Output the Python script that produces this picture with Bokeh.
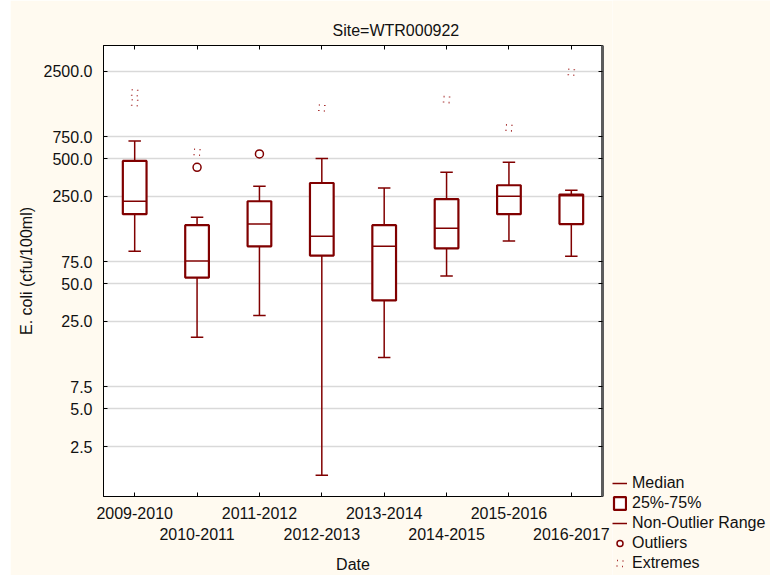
import numpy as np
from bokeh.plotting import figure
from bokeh.layouts import row
from bokeh.models import (FixedTicker, LinearAxis, LogAxis, PrintfTickFormatter,
                          ColumnDataSource, Legend, LegendItem, Range1d, Spacer)
from bokeh.embed import file_html
from bokeh.resources import INLINE

# ---- data ----
periods = ["2009-2010", "2010-2011", "2011-2012", "2012-2013",
           "2013-2014", "2014-2015", "2015-2016", "2016-2017"]
whisker_low = [91, 18.7, 27.9, 1.48, 12.9, 57.6, 110, 83]
q1 = [180, 56, 99.5, 84, 36.8, 96, 180, 150]
median = [228, 76, 150, 120, 99.5, 139, 250, 252]
q3 = [479, 147, 228, 319, 147, 237, 306, 258]
whisker_high = [692, 170, 300, 500, 291, 389, 468, 279]
outlier_period = ["2010-2011", "2011-2012"]
outlier_value = [426, 545]
extreme_period = ["2009-2010", "2009-2010", "2010-2011", "2012-2013",
                  "2014-2015", "2015-2016", "2016-2017"]
extreme_value = [1676, 1394, 562, 1269, 1479, 880, 2446]
y_ticks = [2.5, 5, 7.5, 25, 50, 75, 250, 500, 750, 2500]
legend_labels = ["Median", "25%-75%", "Non-Outlier Range", "Outliers", "Extremes"]

DARK = "#800000"
EXT = "#a83232"
FONT = "Liberation Sans"
FS = "16px"
TXT = "#111111"
BG = "#FFFAF0"

xpos = np.arange(1, len(periods) + 1)
pos = {c: i + 1 for i, c in enumerate(periods)}
box_src = ColumnDataSource(dict(x=xpos, wl=whisker_low, q1=q1, med=median, q3=q3, wh=whisker_high,
                                xl=xpos - 0.19, xr=xpos + 0.19, cl=xpos - 0.1, cr=xpos + 0.1))
out_src = ColumnDataSource(dict(x=[pos[c] for c in outlier_period], y=outlier_value))
ext_src = ColumnDataSource(dict(x=[pos[c] for c in extreme_period], y=extreme_value))

p = figure(width=602, height=575, y_axis_type="log",
           x_range=Range1d(0.5, 8.5), y_range=Range1d(1, 4000),
           output_backend="svg", toolbar_location=None,
           min_border_left=93, min_border_right=10, min_border_top=45, min_border_bottom=79,
           background_fill_color="white", border_fill_color=BG)
p.outline_line_color = "black"
p.outline_line_width = 1
p.frame_align = False

# title
p.title.text = "Site=WTR000922"
p.title.align = "left"
p.title.offset = 229
p.title.standoff = 13
p.title.text_font = FONT
p.title.text_font_size = FS
p.title.text_font_style = "normal"
p.title.text_color = TXT

# grid
p.xgrid.visible = False
p.ygrid.ticker = FixedTicker(ticks=y_ticks, minor_ticks=[])
p.ygrid.grid_line_color = "#d9d9d9"
p.ygrid.grid_line_width = 1.5

# left axis
ya = p.yaxis[0]
ya.ticker = FixedTicker(ticks=y_ticks, minor_ticks=[])
ya.formatter = PrintfTickFormatter(format="%.1f")
ya.major_tick_in = 4
ya.major_tick_out = 0
ya.minor_tick_in = 0
ya.minor_tick_out = 0
ya.major_label_standoff = 11
ya.major_label_text_font = FONT
ya.major_label_text_font_size = FS
ya.major_label_text_color = TXT
ya.axis_label = "E. coli (cfu/100ml)"
ya.axis_label_text_font = FONT
ya.axis_label_text_font_size = FS
ya.axis_label_text_font_style = "normal"
ya.axis_label_text_color = TXT
ya.axis_label_standoff = 6

# bottom axis 1 (odd periods)
xa = p.xaxis[0]
xa.ticker = FixedTicker(ticks=list(xpos[0::2]), minor_ticks=list(xpos[1::2]))
xa.major_label_overrides = {int(i + 1): c for i, c in enumerate(periods) if i % 2 == 0}
xa.major_tick_in = 4
xa.major_tick_out = 0
xa.minor_tick_in = 4
xa.minor_tick_out = 0
xa.minor_tick_line_color = "black"
xa.major_label_standoff = 10
xa.major_label_text_font = FONT
xa.major_label_text_font_size = FS
xa.major_label_text_color = TXT

# bottom axis 2 (even periods, staggered)
xa2 = LinearAxis(ticker=FixedTicker(ticks=list(xpos[1::2]), minor_ticks=[]),
                 major_label_overrides={int(i + 1): c for i, c in enumerate(periods) if i % 2 == 1},
                 axis_line_color=None, major_tick_line_color=None, minor_tick_line_color=None,
                 major_tick_in=0, major_tick_out=0, major_label_standoff=6,
                 major_label_text_font=FONT, major_label_text_font_size=FS,
                 major_label_text_color=TXT,
                 axis_label="Date", axis_label_standoff=13, axis_label_text_font=FONT,
                 axis_label_text_font_size=FS, axis_label_text_font_style="normal",
                 axis_label_text_color=TXT)
p.add_layout(xa2, "below")

# top axis (ticks only)
ta = LinearAxis(ticker=FixedTicker(ticks=list(xpos), minor_ticks=[]),
                major_tick_in=4, major_tick_out=0, minor_tick_in=0, minor_tick_out=0,
                major_label_text_font_size="0px", major_label_standoff=0,
                axis_line_color="black")
p.add_layout(ta, "above")

# right axis (ticks only, thick grey line)
ra = LogAxis(ticker=FixedTicker(ticks=y_ticks, minor_ticks=[]),
             major_tick_in=4, major_tick_out=0, minor_tick_in=0, minor_tick_out=0,
             major_label_text_font_size="0px", major_label_standoff=0,
             axis_line_color="#5c5c5c", axis_line_width=3)
p.add_layout(ra, "right")

# whiskers
p.segment(x0="x", y0="wl", x1="x", y1="q1", source=box_src, line_color=DARK, line_width=1.5)
p.segment(x0="x", y0="q3", x1="x", y1="wh", source=box_src, line_color=DARK, line_width=1.5)
p.segment(x0="cl", y0="wl", x1="cr", y1="wl", source=box_src, line_color=DARK, line_width=1.5)
p.segment(x0="cl", y0="wh", x1="cr", y1="wh", source=box_src, line_color=DARK, line_width=1.5)

# boxes and medians
p.vbar(x="x", width=0.38, bottom="q1", top="q3", source=box_src,
       fill_color="white", line_color=DARK, line_width=2.2)
p.segment(x0="xl", y0="med", x1="xr", y1="med", source=box_src,
          line_color=DARK, line_width=1.5)

# outliers / extremes (extremes: four dots at the corners of a dashed square)
p.scatter(x="x", y="y", source=out_src, marker="circle", size=8,
          fill_color="white", line_color=DARK, line_width=1.5)
p.scatter(x="x", y="y", source=ext_src, marker="square", size=6,
          fill_color=None, line_color=EXT, line_width=1.6, line_dash="1 5")

# ---- legend panel (key only; its renderers hold a single NaN, so draw nothing) ----
lf = figure(width=158, height=575, output_backend="svg", toolbar_location=None,
            x_axis_location=None, y_axis_location=None,
            x_range=Range1d(0, 1), y_range=Range1d(0, 1),
            min_border_left=0, min_border_right=0, min_border_top=0, min_border_bottom=0,
            background_fill_color=BG, border_fill_color=BG, outline_line_color=None)
lf.frame_align = False
lf.xgrid.visible = False
lf.ygrid.visible = False
nan = [np.nan]
k_med = lf.segment(x0=nan, y0=nan, x1=nan, y1=nan, line_color=DARK, line_width=1.5)
k_box = lf.vbar(x=nan, width=0.5, top=nan, bottom=nan, fill_color="white",
                line_color=DARK, line_width=2.2)
k_rng = lf.segment(x0=nan, y0=nan, x1=nan, y1=nan, line_color=DARK, line_width=1.5)
k_out = lf.scatter(x=nan, y=nan, marker="circle", fill_color="white", line_color=DARK, line_width=1.5)
k_ext = lf.scatter(x=nan, y=nan, marker="square", fill_color=None, line_color=EXT,
                   line_width=1.6, line_dash="1 5")
legend = Legend(items=[LegendItem(label=lab, renderers=[r]) for lab, r in
                       zip(legend_labels, [k_med, k_box, k_rng, k_out, k_ext])],
                location=(0, 2), glyph_width=15, glyph_height=16, label_height=20,
                label_standoff=5, spacing=0, padding=0, margin=0,
                border_line_color=None, background_fill_alpha=0,
                label_text_font=FONT, label_text_font_size=FS, label_text_color=TXT)
lf.add_layout(legend)

layout = row(Spacer(width=10, height=575), p, lf)
open("out.html", "w").write(file_html(layout, INLINE))
